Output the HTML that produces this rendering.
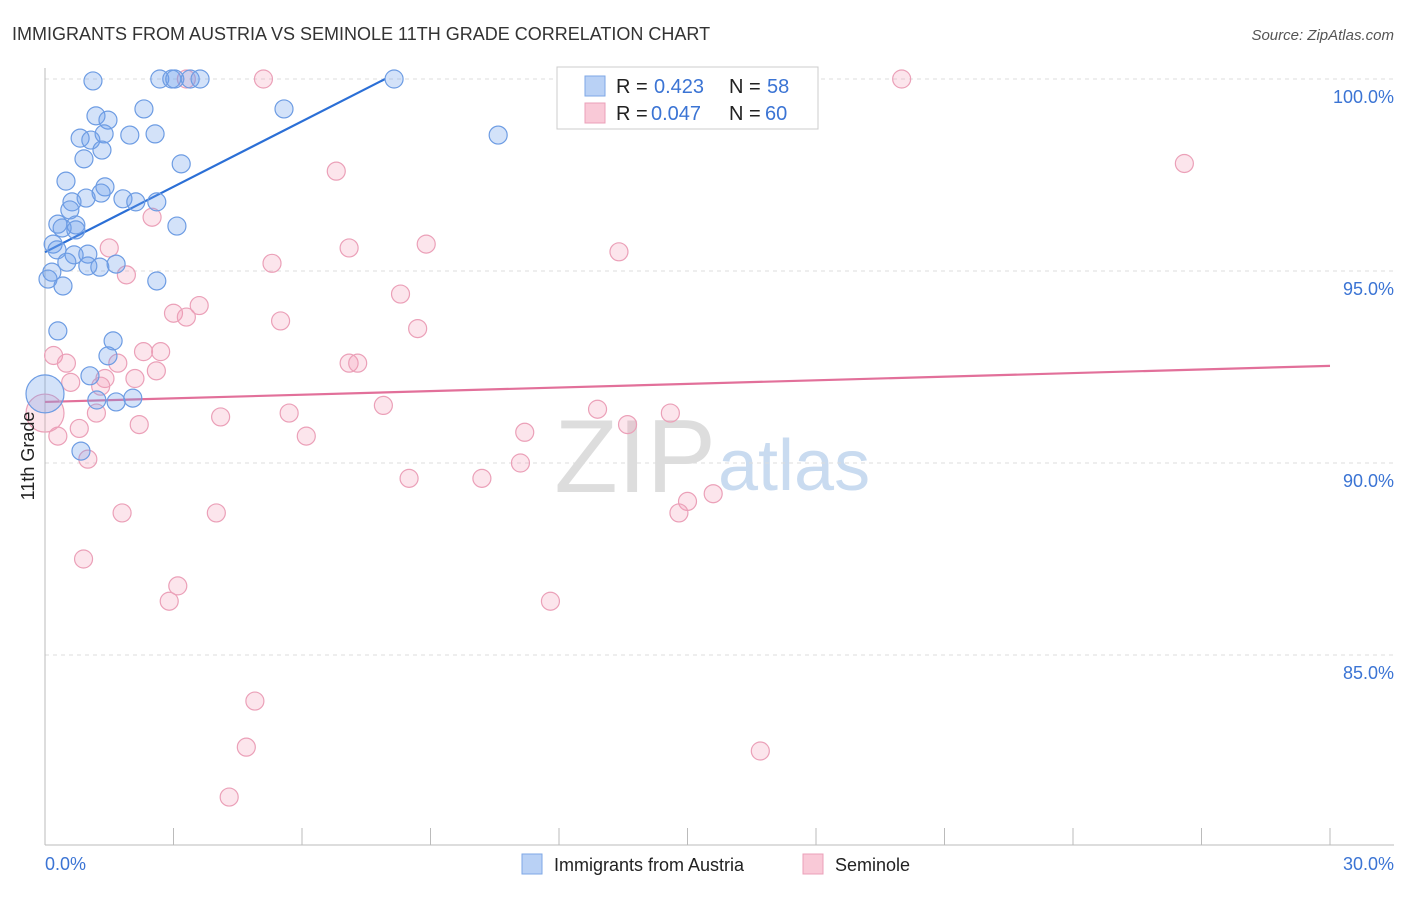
<!DOCTYPE html>
<html><head><meta charset="utf-8"><style>
body{margin:0;background:#fff;font-family:"Liberation Sans",sans-serif;}
svg text{font-family:"Liberation Sans",sans-serif;}
</style></head><body>
<svg id="chart" width="1406" height="892">
<text x="12" y="40" font-size="18" fill="#333">IMMIGRANTS FROM AUSTRIA VS SEMINOLE 11TH GRADE CORRELATION CHART</text>
<text x="1394" y="40" font-size="15" fill="#555" font-style="italic" text-anchor="end">Source: ZipAtlas.com</text>
<text x="716" y="492" font-size="104" fill="#ddd" text-anchor="end" font-family="Liberation Serif">ZIP</text>
<text x="718" y="490" font-size="72" fill="#c9dbf0">atlas</text>
<g id="grid"></g><g id="ticks"></g>
<g id="lines"></g><g id="points"></g>
<text transform="translate(34,456) rotate(-90)" font-size="18" fill="#222" text-anchor="middle">11th Grade</text>
<text x="45" y="870" font-size="18" fill="#3b74d4">0.0%</text>
<text x="1394" y="870" font-size="18" fill="#3b74d4" text-anchor="end">30.0%</text>
<g>
<rect x="557" y="67" width="261" height="62" fill="#fff" stroke="#ccc"/>
<rect x="585" y="76" width="20" height="20" fill="#b9d1f5" stroke="#7ea7e6"/>
<rect x="585" y="103" width="20" height="20" fill="#f9c9d7" stroke="#eba0b8"/>
<text x="616" y="93" font-size="20" fill="#222">R =</text>
<text x="654" y="93" font-size="20" fill="#3b74d4">0.423</text>
<text x="729" y="93" font-size="20" fill="#222">N =</text>
<text x="767" y="93" font-size="20" fill="#3b74d4">58</text>
<text x="616" y="120" font-size="20" fill="#222">R =</text>
<text x="651" y="120" font-size="20" fill="#3b74d4">0.047</text>
<text x="729" y="120" font-size="20" fill="#222">N =</text>
<text x="765" y="120" font-size="20" fill="#3b74d4">60</text>
</g>
<g><rect x="522" y="854" width="20" height="20" fill="#b9d1f5" stroke="#7ea7e6"/><text x="554" y="871" font-size="18" fill="#222">Immigrants from Austria</text></g>
<g><rect x="803" y="854" width="20" height="20" fill="#f9c9d7" stroke="#eba0b8"/><text x="835" y="871" font-size="18" fill="#222">Seminole</text></g>
</svg>
<script>
const blueX=[1.12,2.68,2.96,3.03,3.39,3.62,8.15,1.19,2.31,1.47,0.82,1.07,1.38,1.98,2.57,5.58,10.58,1.33,0.91,3.18,0.49,1.40,1.31,0.96,1.82,2.12,2.61,0.63,0.58,0.30,0.72,0.40,0.72,3.08,0.19,0.28,0.68,1.00,0.51,1.00,1.28,1.66,0.16,0.07,0.42,2.61,0.30,1.59,1.47,1.05,1.21,1.66,2.05,0.84,0.0];
const blueY=[99.95,100,100,100,100,100,100,99.04,99.22,98.93,98.46,98.41,98.57,98.54,98.57,99.22,98.54,98.15,97.92,97.79,97.34,97.19,97.03,96.90,96.88,96.80,96.80,96.80,96.59,96.22,96.20,96.12,96.07,96.17,95.70,95.55,95.42,95.44,95.23,95.13,95.10,95.18,94.97,94.79,94.61,94.74,93.44,93.18,92.79,92.27,91.64,91.59,91.69,90.31,91.8];
const pinkX=[5.1,3.3,20.0,26.6,6.8,2.5,7.1,8.9,13.4,1.5,5.3,1.9,8.3,3.6,3.0,3.3,5.5,8.7,0.2,0.5,2.3,2.7,1.7,7.1,7.3,2.6,1.4,2.1,0.6,1.3,7.9,5.7,12.9,14.6,1.2,2.2,4.1,13.6,0.8,0.3,6.1,11.2,1.0,11.1,8.5,10.2,15.0,15.6,14.8,1.8,4.0,0.9,3.1,2.9,11.8,4.9,4.7,16.7,4.3,0.0];
const pinkY=[100,100,100,97.8,97.6,96.4,95.6,95.7,95.5,95.6,95.2,94.9,94.4,94.1,93.9,93.8,93.7,93.5,92.8,92.6,92.9,92.9,92.6,92.6,92.6,92.4,92.2,92.2,92.1,92.0,91.5,91.3,91.4,91.3,91.3,91.0,91.2,91.0,90.9,90.7,90.7,90.8,90.1,90.0,89.6,89.6,89.0,89.2,88.7,88.7,88.7,87.5,86.8,86.4,86.4,83.8,82.6,82.5,81.3,91.3];
const yTicks=[100,95,90,85];
const blueLine=[[0,95.49],[7.94,100]];
const pinkLine=[[0,91.59],[30,92.53]];
const sx=v=>45+v/30*1285;
const sy=v=>79+(100-v)*38.4;
const NS="http://www.w3.org/2000/svg";
function mk(tag,attrs,parent){const e=document.createElementNS(NS,tag);for(const k in attrs)e.setAttribute(k,attrs[k]);document.getElementById(parent).appendChild(e);return e;}
yTicks.forEach(t=>{
 const l=mk('line',{x1:45,x2:1394,y1:sy(t),y2:sy(t),stroke:'#ddd','stroke-dasharray':'4,4'},'grid');
 
 
 const tx=mk('text',{x:1394,y:sy(t)+24,'font-size':18,fill:'#3b74d4','text-anchor':'end'},'grid');
 tx.textContent=t.toFixed(1)+'%';
 
 
});
const ax=mk('line',{x1:45,x2:45,y1:68,y2:845,stroke:'#bbb'},'ticks');


const bx=mk('line',{x1:45,x2:1394,y1:845,y2:845,stroke:'#bbb'},'ticks');


for(let i=0;i<=10;i++){const t=mk('line',{x1:sx(i*3),x2:sx(i*3),y1:828,y2:845,stroke:'#bbb'},'ticks');
 
 }
function pts(X,Y,fill,stroke,name,bigIdx){X.forEach((x,i)=>{const c=mk('circle',{cx:sx(x),cy:sy(Y[i]),r:i===bigIdx?19:9,fill:fill,stroke:stroke,'stroke-width':1.2},'points');
 
 });}
pts(pinkX,pinkY,'rgba(244,150,180,0.25)','#eba0b8','seminole-point',pinkX.length-1);
pts(blueX,blueY,'rgba(110,160,235,0.3)','#6d9ce3','austria-point',blueX.length-1);
const bl=mk('line',{x1:sx(blueLine[0][0]),y1:sy(blueLine[0][1]),x2:sx(blueLine[1][0]),y2:sy(blueLine[1][1]),stroke:'#2b6fd6','stroke-width':2.2},'lines');


const pl=mk('line',{x1:sx(pinkLine[0][0]),y1:sy(pinkLine[0][1]),x2:sx(pinkLine[1][0]),y2:sy(pinkLine[1][1]),stroke:'#e2709a','stroke-width':2.2},'lines');


</script>
</body></html>
